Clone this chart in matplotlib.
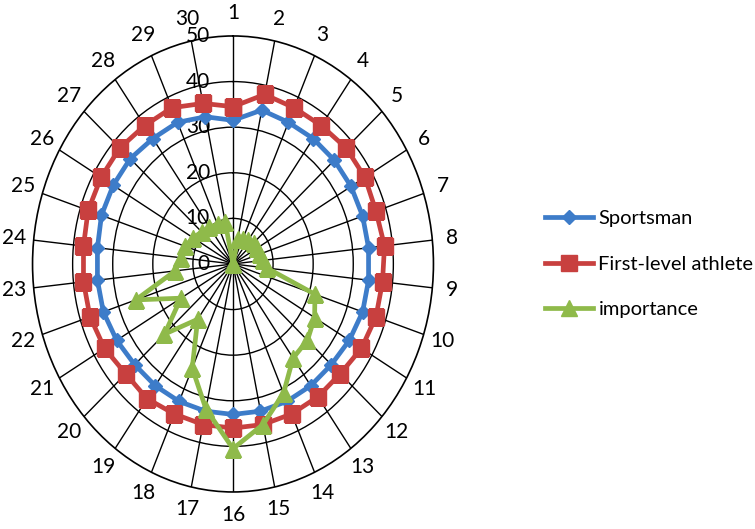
import numpy as np
import matplotlib
matplotlib.use("Agg")
import matplotlib.pyplot as plt
from matplotlib.transforms import offset_copy

# Ítems 1..30 (sentido horario, empezando arriba)
items = [str(i) for i in range(1, 31)]
sportsman = [31.5, 34.5, 34, 34, 34, 34, 34, 34, 34, 34, 33.5, 33, 33, 33, 33,
             33, 33, 33, 33, 33, 33.5, 34, 34, 34, 34.5, 34.5, 34.5, 34, 34, 33]
first_level = [34.5, 38, 37.5, 37.5, 38, 38, 37.5, 38, 37.5, 37.5, 37, 36, 36, 36, 36,
               36, 36, 36, 36.5, 36, 37, 37.5, 37.5, 37.5, 38, 38, 38, 37.5, 37.5, 36]
importance = [0, 5.5, 6, 6.5, 7, 7, 7, 7.5, 8.5, 21.5, 23.5, 25, 25.5, 31, 36,
              40.5, 32.5, 25, 15, 23, 15, 25.5, 14.5, 13, 12.5, 11.5, 10.5, 10, 9.5, 9.5]
r_ticks = [0, 10, 20, 30, 40, 50]

plt.rcParams["font.family"] = ["Lato", "DejaVu Sans"]

fig = plt.figure(figsize=(7.55, 5.29), dpi=100)
ax = fig.add_axes([0.0431, 0.070, 0.531, 0.862], projection="polar")
ax.set_aspect("auto")
ax.set_theta_zero_location("N")
ax.set_theta_direction(-1)
ax.set_ylim(0, 50)

n = len(items)
theta = np.arange(n) * 2 * np.pi / n
theta_c = np.append(theta, theta[0])


def closed(v):
    return np.append(v, v[0])


ax.plot(theta_c, closed(sportsman), color="#3D7CC9", lw=3.4, marker="D", ms=7,
        label="Sportsman", zorder=3)
ax.plot(theta_c, closed(first_level), color="#C8403F", lw=3.4, marker="s", ms=12,
        label="First-level athlete", zorder=4)
ax.plot(theta_c, closed(importance), color="#8FBA4A", lw=3.4, marker="^", ms=12,
        label="importance", zorder=5)

ax.set_thetagrids(np.degrees(theta), labels=[])
ax.set_rgrids([10, 20, 30, 40], labels=[])
ax.grid(True, color="black", lw=1.0)
ax.spines["polar"].set_color("black")
ax.spines["polar"].set_linewidth(1.2)

for t, lab in zip(theta, items):
    ax.text(t, 55, lab, ha="center", va="center", fontsize=15, clip_on=False)

trans = offset_copy(ax.transData, fig=fig, x=-0.23, y=0, units="inches")
for r in r_ticks:
    ax.text(0, r, str(r), transform=trans, ha="right", va="center", fontsize=15,
            clip_on=False, zorder=2)

fig.legend(loc="center left", bbox_to_anchor=(527 / 755, 1 - 264 / 529),
           frameon=False, fontsize=14.5, handlelength=2.4, labelspacing=1.4,
           handletextpad=0.25)

fig.savefig("out.png", dpi=100)
